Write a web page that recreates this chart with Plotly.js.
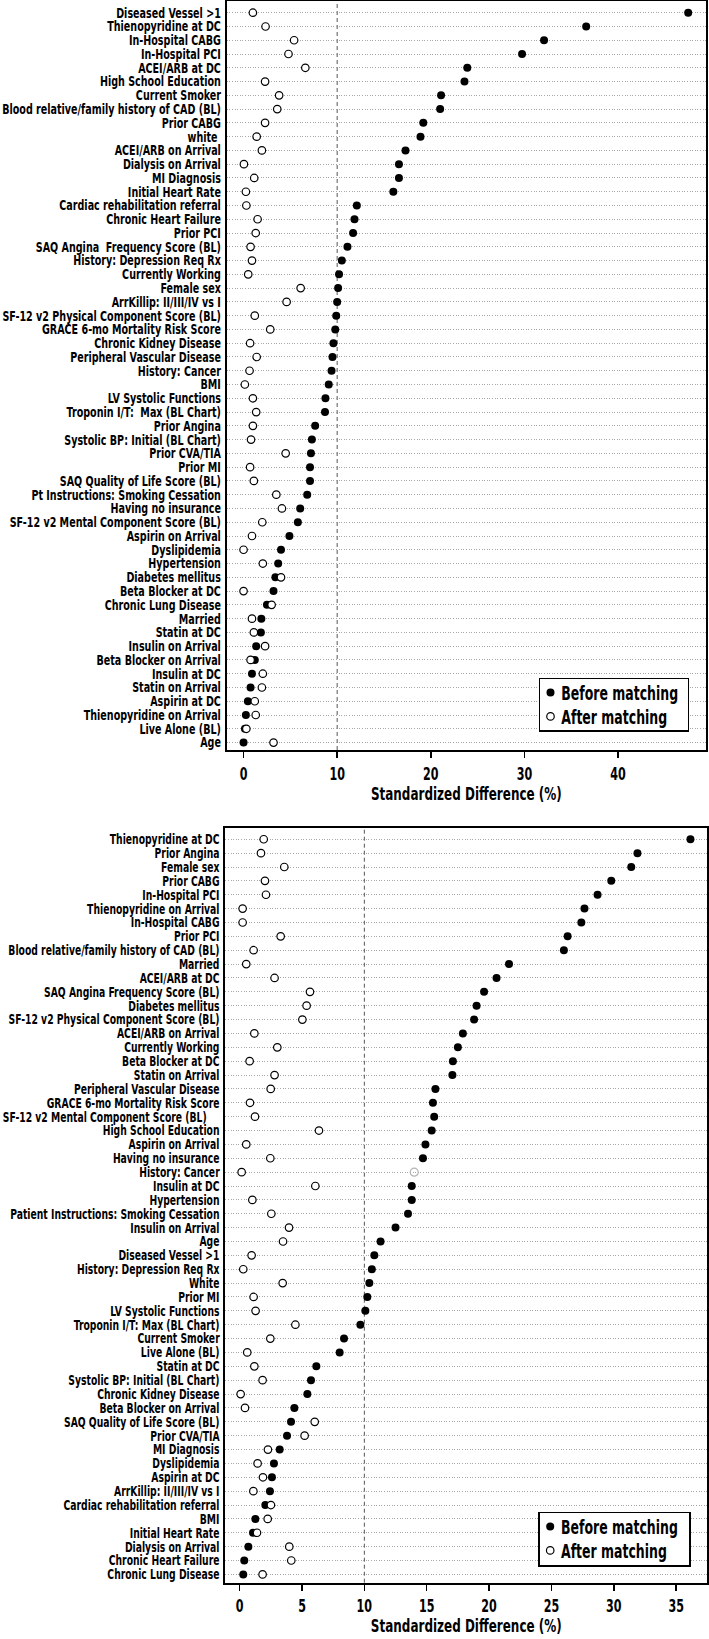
<!DOCTYPE html>
<html>
<head>
<meta charset="utf-8">
<script src="https://cdn.plot.ly/plotly-3.0.1.min.js"></script>
<style>
  html, body { margin: 0; padding: 0; background: #fff; }
  #chart { width: 709px; height: 1639px; }
</style>
</head>
<body>
<div id="chart"></div>
<script>
// ---------- Top panel data ----------
const topLabels = [
  "Diseased Vessel >1", "Thienopyridine at DC", "In-Hospital CABG", "In-Hospital PCI",
  "ACEI/ARB at DC", "High School Education", "Current Smoker",
  "Blood relative/family history of CAD (BL)", "Prior CABG", "white\u00a0",
  "ACEI/ARB on Arrival", "Dialysis on Arrival", "MI Diagnosis", "Initial Heart Rate",
  "Cardiac rehabilitation referral", "Chronic Heart Failure", "Prior PCI",
  "SAQ Angina  Frequency Score (BL)", "History: Depression Req Rx", "Currently Working",
  "Female sex", "ArrKillip: II/III/IV vs I", "SF-12 v2 Physical Component Score (BL)",
  "GRACE 6-mo Mortality Risk Score", "Chronic Kidney Disease", "Peripheral Vascular Disease",
  "History: Cancer", "BMI", "LV Systolic Functions", "Troponin I/T:  Max (BL Chart)",
  "Prior Angina", "Systolic BP: Initial (BL Chart)", "Prior CVA/TIA", "Prior MI",
  "SAQ Quality of Life Score (BL)", "Pt Instructions: Smoking Cessation",
  "Having no insurance", "SF-12 v2 Mental Component Score (BL)", "Aspirin on Arrival",
  "Dyslipidemia", "Hypertension", "Diabetes mellitus", "Beta Blocker at DC",
  "Chronic Lung Disease", "Married", "Statin at DC", "Insulin on Arrival",
  "Beta Blocker on Arrival", "Insulin at DC", "Statin on Arrival", "Aspirin at DC",
  "Thienopyridine on Arrival", "Live Alone (BL)", "Age"
];
const topBefore = [
  47.5, 36.6, 32.1, 29.75, 23.9, 23.6, 21.1, 21.0, 19.2, 18.9,
  17.3, 16.6, 16.6, 16.0, 12.1, 11.85, 11.7, 11.1, 10.5, 10.2,
  10.1, 10.0, 9.9, 9.8, 9.6, 9.5, 9.4, 9.1, 8.75, 8.7,
  7.65, 7.3, 7.2, 7.1, 7.1, 6.8, 6.05, 5.8, 4.9, 4.0,
  3.7, 3.4, 3.2, 2.5, 1.9, 1.85, 1.35, 1.2, 0.9, 0.75,
  0.46, 0.25, 0.15, 0.0
];
const topAfter = [
  1.0, 2.35, 5.4, 4.8, 6.6, 2.3, 3.8, 3.6, 2.3, 1.4,
  1.96, 0.04, 1.14, 0.25, 0.3, 1.5, 1.3, 0.75, 0.9, 0.5,
  6.1, 4.6, 1.2, 2.85, 0.7, 1.4, 0.64, 0.14, 1.0, 1.35,
  1.0, 0.8, 4.5, 0.7, 1.1, 3.5, 4.1, 2.0, 0.9, 0.0,
  2.06, 4.0, 0.0, 3.0, 0.9, 1.1, 2.3, 0.75, 2.06, 1.96,
  1.2, 1.3, 0.3, 3.2
];
const topTicks = [0, 10, 20, 30, 40];

// ---------- Bottom panel data ----------
const botLabels = [
  "Thienopyridine at DC", "Prior Angina", "Female sex", "Prior CABG", "In-Hospital PCI",
  "Thienopyridine on Arrival", "In-Hospital CABG", "Prior PCI",
  "Blood relative/family history of CAD (BL)", "Married", "ACEI/ARB at DC",
  "SAQ Angina Frequency Score (BL)", "Diabetes mellitus",
  "SF-12 v2 Physical Component Score (BL)", "ACEI/ARB on Arrival", "Currently Working",
  "Beta Blocker at DC", "Statin on Arrival", "Peripheral Vascular Disease",
  "GRACE 6-mo Mortality Risk Score", "SF-12 v2 Mental Component Score (BL)\u00a0\u00a0\u00a0\u00a0",
  "High School Education", "Aspirin on Arrival", "Having no insurance", "History: Cancer",
  "Insulin at DC", "Hypertension", "Patient Instructions: Smoking Cessation",
  "Insulin on Arrival", "Age", "Diseased Vessel >1", "History: Depression Req Rx",
  "White", "Prior MI", "LV Systolic Functions", "Troponin I/T: Max (BL Chart)",
  "Current Smoker", "Live Alone (BL)", "Statin at DC", "Systolic BP: Initial (BL Chart)",
  "Chronic Kidney Disease", "Beta Blocker on Arrival", "SAQ Quality of Life Score (BL)",
  "Prior CVA/TIA", "MI Diagnosis", "Dyslipidemia", "Aspirin at DC",
  "ArrKillip: II/III/IV vs I", "Cardiac rehabilitation referral", "BMI",
  "Initial Heart Rate", "Dialysis on Arrival", "Chronic Heart Failure", "Chronic Lung Disease"
];
const botBefore = [
  36.15, 31.9, 31.4, 29.8, 28.7, 27.65, 27.4, 26.3, 26.0, 21.6,
  20.6, 19.6, 19.0, 18.8, 17.9, 17.5, 17.1, 17.06, 15.7, 15.5,
  15.6, 15.4, 14.9, 14.7, 14.0, 13.8, 13.8, 13.5, 12.5, 11.3,
  10.8, 10.6, 10.4, 10.24, 10.08, 9.68, 8.37, 8.02, 6.15, 5.72,
  5.43, 4.39, 4.12, 3.8, 3.21, 2.75, 2.59, 2.43, 2.06, 1.26,
  1.07, 0.7, 0.37, 0.29
];
const botAfter = [
  1.93, 1.71, 3.58, 2.03, 2.11, 0.24, 0.24, 3.29, 1.12, 0.53,
  2.8, 5.64, 5.37, 5.03, 1.18, 3.02, 0.8, 2.8, 2.49, 0.83,
  1.23, 6.36, 0.53, 2.46, 0.16, 6.07, 1.02, 2.54, 3.96, 3.48,
  0.96, 0.29, 3.45, 1.12, 1.28, 4.47, 2.46, 0.61, 1.18, 1.84,
  0.08, 0.43, 6.02, 5.21, 2.27, 1.44, 1.87, 1.1, 2.51, 2.25,
  1.39, 3.98, 4.14, 1.84
];
const botTicks = [0, 5, 10, 15, 20, 25, 30, 35];
const greyedLabel = "History: Cancer";
const refLine = 10;

// ---------- Styling ----------
const FONT = '"DejaVu Sans Condensed", "DejaVu Sans", sans-serif';
const W = 709, H = 1639;
const px = (v) => v / W;
const py = (v) => 1 - v / H;

const beforeSymbols = botLabels.map(l => l === greyedLabel ? 'circle-open' : 'circle');
const beforeColors = botLabels.map(l => l === greyedLabel ? '#b5b5b5' : 'black');
const beforeLineW = botLabels.map(l => l === greyedLabel ? 1.2 : 0);

const traces = [
  { type: 'scatter', mode: 'markers', x: topBefore, y: topLabels, xaxis: 'x', yaxis: 'y',
    name: 'Before matching', legend: 'legend', cliponaxis: false,
    marker: { symbol: 'circle', color: 'black', size: 8, line: { width: 0 } } },
  { type: 'scatter', mode: 'markers', x: topAfter, y: topLabels, xaxis: 'x', yaxis: 'y',
    name: 'After matching', legend: 'legend', cliponaxis: false,
    marker: { symbol: 'circle', color: 'white', size: 7.5, line: { color: 'black', width: 1.2 } } },
  { type: 'scatter', mode: 'markers', x: botBefore, y: botLabels, xaxis: 'x2', yaxis: 'y2',
    name: 'Before matching', legend: 'legend2', cliponaxis: false,
    marker: { symbol: beforeSymbols, color: beforeColors, size: 8, line: { color: beforeColors, width: beforeLineW } } },
  { type: 'scatter', mode: 'markers', x: botAfter, y: botLabels, xaxis: 'x2', yaxis: 'y2',
    name: 'After matching', legend: 'legend2', cliponaxis: false,
    marker: { symbol: 'circle', color: 'white', size: 7.5, line: { color: 'black', width: 1.2 } } }
];

const xCommon = {
  ticks: 'outside', ticklen: 6, tickwidth: 1.5, tickcolor: 'black',
  showline: true, mirror: true, linewidth: 2, linecolor: 'black',
  showgrid: false, zeroline: false, fixedrange: true,
  tickfont: { family: FONT, size: 18, color: 'black', weight: 'bold' },
  title: { text: 'Standardized Difference (%)', font: { family: FONT, size: 17, color: 'black', weight: 'bold' }, standoff: 4 }
};
const yCommon = {
  type: 'category', ticks: '', tickmode: 'linear', tick0: 0, dtick: 1,
  showline: true, mirror: true, linewidth: 2, linecolor: 'black',
  showgrid: true, gridcolor: '#a8a8a8', gridwidth: 1, griddash: '1px,1.6px', zeroline: false,
  tickfont: { family: FONT, size: 14, color: 'black', weight: 'bold' }, ticklabelstandoff: 1,
  fixedrange: true
};

const legendCommon = {
  bgcolor: 'white', bordercolor: 'black', borderwidth: 1.2,
  font: { family: FONT, size: 19, color: 'black', weight: 'bold' },
  xanchor: 'right', yanchor: 'bottom', itemwidth: 30, tracegroupgap: 0
};

// legend boxes as they sit in the reference (left, top, right, bottom in px)
const legendBoxes = {
  legend: [539.3, 678.7, 688.3, 731],
  legend2: [539, 1512.7, 690, 1566]
};

const layout = {
  width: W, height: H,
  margin: { l: 0, r: 0, t: 0, b: 0 },
  paper_bgcolor: 'white', plot_bgcolor: 'white',
  showlegend: true,
  xaxis: Object.assign({}, xCommon, { domain: [px(226.7), px(706)], anchor: 'y', range: [-1.8, 49.4], tickvals: topTicks }),
  yaxis: Object.assign({}, yCommon, { domain: [py(750), py(1)], anchor: 'x', categoryorder: 'array', categoryarray: topLabels, range: [53.54, -0.85] }),
  xaxis2: Object.assign({}, xCommon, { domain: [px(225.3), px(707.3)], anchor: 'y2', range: [-1.15, 37.5], tickvals: botTicks }),
  yaxis2: Object.assign({}, yCommon, { domain: [py(1582.7), py(828.3)], anchor: 'x2', categoryorder: 'array', categoryarray: botLabels, range: [53.6, -0.79] }),
  legend: Object.assign({}, legendCommon, { x: px(legendBoxes.legend[2]), y: py(legendBoxes.legend[3]) }),
  legend2: Object.assign({}, legendCommon, { x: px(legendBoxes.legend2[2]), y: py(legendBoxes.legend2[3]) }),
  shapes: [
    { type: 'line', xref: 'x', yref: 'y domain', x0: refLine, x1: refLine, y0: 0, y1: 1, layer: 'below',
      line: { color: '#555', width: 1, dash: '4px,3px' } },
    { type: 'line', xref: 'x2', yref: 'y2 domain', x0: refLine, x1: refLine, y0: 0, y1: 1, layer: 'below',
      line: { color: '#555', width: 1, dash: '4px,3px' } }
  ]
};

// ---------- Post-render: condense text horizontally (reference uses a condensed face) ----------
function squeeze(el, s, anchor) {
  const t = el.getAttribute('transform') || '';
  if (t.indexOf('scale(') >= 0) return; // already done
  const bb = el.getBBox();
  const ax = anchor === 'end' ? bb.x + bb.width : anchor === 'middle' ? bb.x + bb.width / 2 : bb.x;
  el.setAttribute('transform', `${t} translate(${ax},0) scale(${s},1) translate(${-ax},0)`);
}
function findText(nodes, str) {
  return Array.from(nodes).find(n => n.textContent.trim() === str);
}

const gd = document.getElementById('chart');

function postProcess() {
  try {
    // y tick labels: uniform squeeze so the widest label fits left of the frame
    [['ytick', 219], ['y2tick', 217]].forEach(([cls, target]) => {
      const nodes = Array.from(gd.querySelectorAll('g.' + cls + ' text'));
      const fresh = nodes.filter(n => (n.getAttribute('transform') || '').indexOf('scale(') < 0);
      if (!fresh.length) return;
      let maxW = 0;
      nodes.forEach(n => { maxW = Math.max(maxW, n.getBBox().width); });
      const s = target / maxW;
      nodes.forEach(n => squeeze(n, s, 'end'));
    });
    // x tick labels
    ['xtick', 'x2tick'].forEach(cls => {
      const nodes = gd.querySelectorAll('g.' + cls + ' text');
      const ref = findText(nodes, '10');
      const s = ref ? 15.5 / ref.getBBox().width : 0.8;
      nodes.forEach(n => squeeze(n, s, 'middle'));
    });
    // axis titles
    gd.querySelectorAll('text.xtitle, text.x2title').forEach(n => {
      const s = 191 / n.getBBox().width;
      squeeze(n, s, 'middle');
    });
    // legends: compact box like the reference
    Object.keys(legendBoxes).forEach(id => {
      const lg = gd.querySelector('g.infolayer > g.' + id);
      if (!lg) return;
      const [L, T, R, B] = legendBoxes[id];
      const bg = lg.querySelector('rect.bg');
      if (bg) { bg.setAttribute('width', R - L); bg.setAttribute('height', B - T); }
      const bx = bg ? parseFloat(bg.getAttribute('x')) || 0 : 0;
      const by = bg ? parseFloat(bg.getAttribute('y')) || 0 : 0;
      lg.setAttribute('transform', `translate(${L - bx},${T - by})`);
      const items = Array.from(lg.querySelectorAll('g.traces'));
      const rowY = [13.7, 37.7];
      items.forEach((it, i) => {
        it.setAttribute('transform', `translate(${bx},${rowY[Math.min(i, 1)] + by})`);
      });
      const texts = Array.from(lg.querySelectorAll('g.traces > text'));
      texts.forEach(n => n.setAttribute('x', 22));
      const ref = findText(texts, 'Before matching');
      const s = ref ? 117 / ref.getBBox().width : 0.75;
      texts.forEach(n => squeeze(n, s, 'start'));
      lg.querySelectorAll('path.scatterpts').forEach(p => p.setAttribute('transform', 'translate(11.2,0)'));
    });
  } catch (e) {
    console.error(e);
  }
}

Plotly.newPlot(gd, traces, layout, { displayModeBar: false, staticPlot: true }).then(() => {
  postProcess();
  requestAnimationFrame(postProcess);
  setTimeout(postProcess, 30);
  setTimeout(postProcess, 150);
});
</script>
</body>
</html>
